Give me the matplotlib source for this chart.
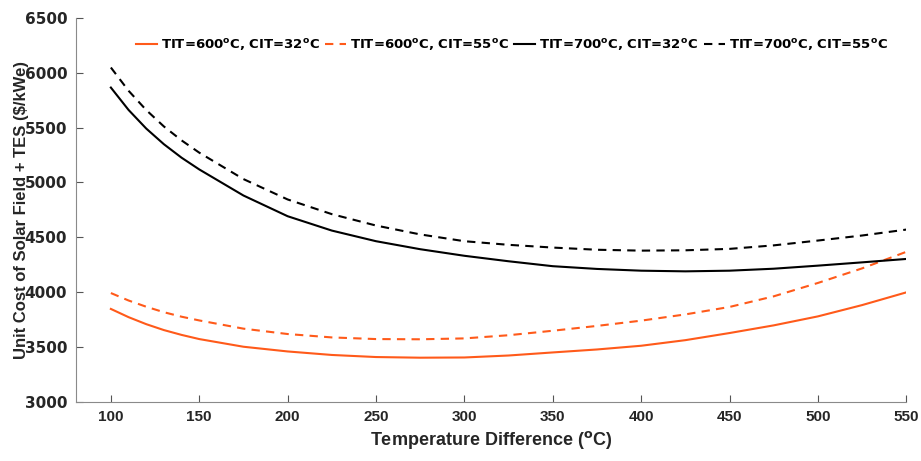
import matplotlib
matplotlib.use("Agg")
import matplotlib.pyplot as plt

plt.rcParams['font.family'] = ['Liberation Sans', 'DejaVu Sans']
plt.rcParams['mathtext.fontset'] = 'custom'
plt.rcParams['mathtext.rm'] = 'DejaVu Sans:bold'
plt.rcParams['mathtext.bf'] = 'DejaVu Sans:bold'

dT = [100, 110, 120, 130, 140, 150, 175, 200, 225, 250, 275, 300, 325, 350, 375, 400, 425, 450, 475, 500, 525, 550]
tit600_cit32 = [3845, 3770, 3706, 3652, 3608, 3570, 3500, 3457, 3425, 3406, 3400, 3402, 3420, 3448, 3475, 3509, 3560, 3625, 3695, 3777, 3880, 3996]
tit600_cit55 = [3990, 3922, 3865, 3815, 3774, 3740, 3665, 3616, 3585, 3570, 3568, 3576, 3605, 3646, 3690, 3738, 3795, 3863, 3960, 4082, 4215, 4366]
tit700_cit32 = [5865, 5661, 5491, 5348, 5225, 5118, 4880, 4691, 4560, 4463, 4390, 4330, 4280, 4235, 4210, 4194, 4188, 4194, 4212, 4240, 4270, 4301]
tit700_cit55 = [6048, 5836, 5660, 5510, 5383, 5271, 5030, 4844, 4710, 4606, 4525, 4463, 4430, 4405, 4385, 4377, 4380, 4393, 4425, 4469, 4515, 4569]

labels = [r'TIT=600$^{\mathrm{o}}$C, CIT=32$^{\mathrm{o}}$C',
          r'TIT=600$^{\mathrm{o}}$C, CIT=55$^{\mathrm{o}}$C',
          r'TIT=700$^{\mathrm{o}}$C, CIT=32$^{\mathrm{o}}$C',
          r'TIT=700$^{\mathrm{o}}$C, CIT=55$^{\mathrm{o}}$C']
xticks = [100, 150, 200, 250, 300, 350, 400, 450, 500, 550]
yticks = [3000, 3500, 4000, 4500, 5000, 5500, 6000, 6500]

orange = '#FF5A1A'
text_col = '#262626'
fig = plt.figure(figsize=(9.21, 4.61), dpi=100)
ax = fig.add_axes([0.082, 0.129, 0.902, 0.832])

ax.plot(dT, tit600_cit32, color=orange, lw=1.5, label=labels[0])
ax.plot(dT, tit600_cit55, color=orange, lw=1.5, ls=(0, (4, 3)), label=labels[1])
ax.plot(dT, tit700_cit32, color='black', lw=1.5, label=labels[2])
ax.plot(dT, tit700_cit55, color='black', lw=1.5, ls=(0, (4, 3)), label=labels[3])

ax.set_xlim(80, 550)
ax.set_ylim(3000, 6500)
ax.set_xticks(xticks)
ax.set_yticks(yticks)
ax.spines['top'].set_visible(False)
ax.spines['right'].set_visible(False)
for s in ['left', 'bottom']:
    ax.spines[s].set_color('#8a8a8a')
    ax.spines[s].set_linewidth(0.8)
ax.tick_params(direction='in', length=5, color='#555555', width=0.8, pad=6)
ax.tick_params(axis='x', labelsize=11)
for t in ax.get_xticklabels():
    t.set_fontweight('bold')
    t.set_color(text_col)
for t in ax.get_yticklabels():
    t.set_fontweight('bold')
    t.set_color(text_col)
    t.set_family('DejaVu Sans')
    t.set_fontsize(11)

ax.set_xlabel(r'Temperature Difference ($^{\mathrm{o}}$C)', fontsize=13, fontweight='bold', color=text_col)
ax.set_ylabel('Unit Cost of Solar Field + TES ($/kWe)', fontsize=12, fontweight='bold',
              color=text_col, labelpad=-3)

leg = ax.legend(loc='center', bbox_to_anchor=(0.525, 0.93), ncol=4, frameon=False,
                prop={'weight': 'bold', 'size': 9.5, 'family': 'DejaVu Sans'},
                handlelength=1.6, handletextpad=0.3, columnspacing=0.4)
for t in leg.get_texts():
    t.set_color('black')

fig.savefig('out.png', dpi=100)
